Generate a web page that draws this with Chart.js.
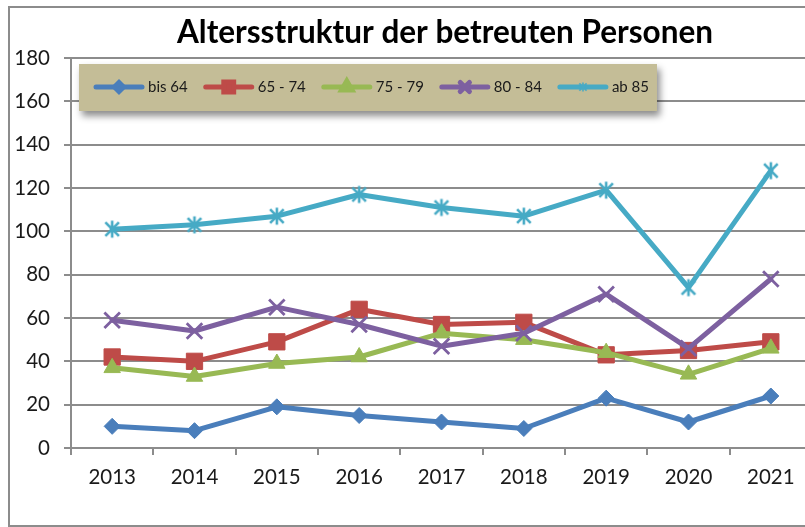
<!DOCTYPE html>
<html>
<head>
<meta charset="utf-8">
<script src="https://cdn.jsdelivr.net/npm/chart.js@4.4.0/dist/chart.umd.min.js"></script>
<style>
  html, body { margin: 0; padding: 0; background: #fff; overflow: hidden; width: 805px; height: 527px; }
  #wrap { position: absolute; left: 0; top: 0; width: 840px; height: 527px; }
</style>
</head>
<body>
<div id="wrap"><canvas id="c" width="840" height="527"></canvas></div>
<script>
// Jahre und Anzahl betreuter Personen je Altersgruppe
const years    = ['2013', '2014', '2015', '2016', '2017', '2018', '2019', '2020', '2021'];
const bis64    = [10, 8, 19, 15, 12, 9, 23, 12, 24];
const age65_74 = [42, 40, 49, 64, 57, 58, 43, 45, 49];
const age75_79 = [37, 33, 39, 42, 53, 50, 44, 34, 46];
const age80_84 = [59, 54, 65, 57, 47, 53, 71, 46, 78];
const ab85     = [101, 103, 107, 117, 111, 107, 119, 74, 128];
const yMin = 0, yMax = 180, yStep = 20;

const seriesNames = ['bis 64', '65 - 74', '75 - 79', '80 - 84', 'ab 85'];
const seriesData  = [bis64, age65_74, age75_79, age80_84, ab85];
const colors = ['#4A7EBB', '#BE4B48', '#98B954', '#7D60A0', '#46AAC5'];

const FONT = 'Lato, "Open Sans", sans-serif';
const GRID = '#8c8c8c';

// asterisk marker: an X with a vertical bar
function makeAsterisk(color, size, lw) {
  const cv = document.createElement('canvas');
  cv.width = size; cv.height = size;
  const g = cv.getContext('2d');
  const c = size / 2, r = size / 2 - 1.5;
  g.strokeStyle = color; g.lineWidth = lw; g.lineCap = 'butt';
  g.beginPath();
  g.moveTo(c - r * 0.8, c - r * 0.8); g.lineTo(c + r * 0.8, c + r * 0.8);
  g.moveTo(c + r * 0.8, c - r * 0.8); g.lineTo(c - r * 0.8, c + r * 0.8);
  g.moveTo(c, c - r); g.lineTo(c, c + r);
  g.stroke();
  return cv;
}

const markerStyles = ['rectRot', 'rect', 'triangle', 'crossRot', makeAsterisk(colors[4], 20, 2.6)];
const markerRadius = [8, 11.5, 9.5, 11, 10];
const markerBorder = [1, 1, 1, 2.8, 1];
const legendMarkers = ['rectRot', 'rect', 'triangle', 'crossRot', makeAsterisk(colors[4], 12, 1.6)];
const legendRadius = [4.5, 7, 6, 6.5, 6];

const datasets = seriesNames.map((name, i) => ({
  label: name,
  data: seriesData[i],
  borderColor: colors[i],
  backgroundColor: colors[i],
  borderWidth: 5,
  borderJoinStyle: 'round',
  borderCapStyle: 'round',
  pointStyle: markerStyles[i],
  pointRadius: markerRadius[i],
  pointHoverRadius: markerRadius[i],
  pointBorderWidth: markerBorder[i],
  pointBackgroundColor: colors[i],
  pointBorderColor: colors[i],
  tension: 0,
  order: seriesNames.length - i
}));

// white background, outer frame and the chart title
const framePlugin = {
  id: 'frame',
  beforeDraw(chart) {
    const ctx = chart.ctx;
    ctx.save();
    ctx.fillStyle = '#fff';
    ctx.fillRect(0, 0, chart.width, chart.height);
    ctx.strokeStyle = GRID;
    ctx.lineWidth = 2;
    ctx.strokeRect(9, 7, 900, 519);
    ctx.fillStyle = '#000';
    ctx.font = 'bold 31.5px ' + FONT;
    ctx.textAlign = 'center';
    ctx.textBaseline = 'alphabetic';
    ctx.fillText('Altersstruktur der betreuten Personen', 445, 43);
    ctx.restore();
  }
};

// legend panel with drop shadow, drawn over the plot
const legendPlugin = {
  id: 'panelLegend',
  afterDraw(chart) {
    const ctx = chart.ctx;
    ctx.save();
    ctx.font = '15px ' + FONT;
    const left = 79, top = 64, h = 47, midY = 87;
    const lineLen = 50, gapAfterLine = 4, gapAfterText = 16;
    let x = 94;
    const items = seriesNames.map((n, i) => {
      const w = ctx.measureText(n).width;
      const it = { x, w, i };
      x += lineLen + gapAfterLine + w + gapAfterText;
      return it;
    });
    const last = items[items.length - 1];
    const right = last.x + lineLen + gapAfterLine + last.w + 8;

    ctx.shadowColor = 'rgba(0,0,0,0.45)';
    ctx.shadowBlur = 7;
    ctx.shadowOffsetX = 3;
    ctx.shadowOffsetY = 5;
    ctx.fillStyle = '#C4BD97';
    ctx.fillRect(left, top, right - left, h);
    ctx.shadowColor = 'transparent';

    items.forEach(it => {
      const c = colors[it.i];
      ctx.strokeStyle = c;
      ctx.lineWidth = 5;
      ctx.lineCap = 'round';
      ctx.beginPath();
      ctx.moveTo(it.x + 2, midY);
      ctx.lineTo(it.x + lineLen - 2, midY);
      ctx.stroke();
      ctx.fillStyle = c;
      Chart.helpers.drawPoint(ctx, {
        pointStyle: legendMarkers[it.i],
        radius: legendRadius[it.i],
        borderWidth: it.i === 3 ? 2 : 1,
        rotation: 0
      }, it.x + lineLen / 2, midY);
      ctx.fillStyle = '#1a1a1a';
      ctx.textAlign = 'left';
      ctx.textBaseline = 'alphabetic';
      ctx.fillText(seriesNames[it.i], it.x + lineLen + gapAfterLine, 92);
    });
    ctx.restore();
  }
};

new Chart(document.getElementById('c'), {
  type: 'line',
  data: { labels: years, datasets },
  plugins: [framePlugin, legendPlugin],
  options: {
    responsive: false,
    animation: false,
    layout: { padding: { left: 9, top: 58, right: 28, bottom: 0 } },
    plugins: { legend: { display: false }, title: { display: false }, tooltip: { enabled: false } },
    scales: {
      x: {
        offset: true,
        grid: { offset: true, drawOnChartArea: false, drawTicks: true, tickLength: 7, color: GRID, lineWidth: 2 },
        border: { display: true, color: GRID, width: 2 },
        ticks: { color: '#1a1a1a', font: { family: FONT, size: 20.5 }, padding: 10, maxRotation: 0, autoSkip: false },
        afterFit(s) { s.height = 79; }
      },
      y: {
        min: yMin, max: yMax,
        grid: { drawTicks: true, tickLength: 7, color: GRID, lineWidth: 2 },
        border: { display: true, color: GRID, width: 2 },
        ticks: { stepSize: yStep, color: '#1a1a1a', font: { family: FONT, size: 20.5 }, padding: 14 },
        afterFit(s) { s.width = 62; }
      }
    }
  }
});
</script>
</body>
</html>
